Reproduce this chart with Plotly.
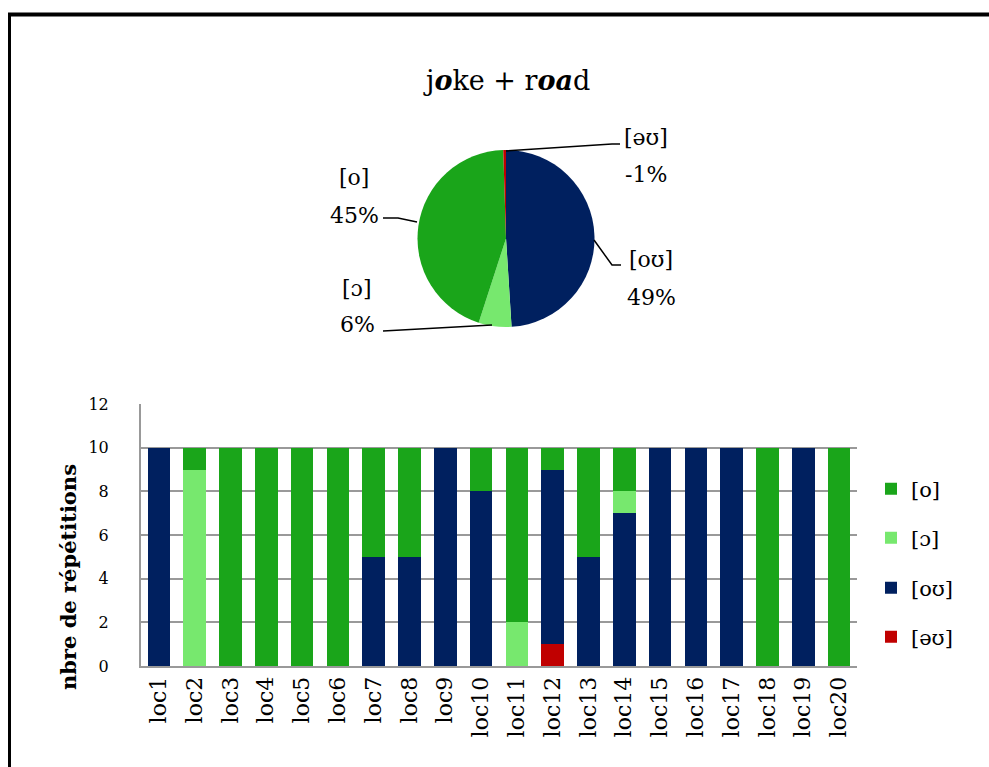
import plotly.graph_objects as go

W, H = 989, 767

locations = [f"loc{i}" for i in range(1, 21)]
# counts per location, stacked from bottom: [əʊ], [oʊ], [ɔ], [o]
schwa_u = [0, 0, 0, 0, 0, 0, 0, 0, 0, 0, 0, 1, 0, 0, 0, 0, 0, 0, 0, 0]
o_u = [10, 0, 0, 0, 0, 0, 5, 5, 10, 8, 0, 8, 5, 7, 10, 10, 10, 0, 10, 0]
open_o = [0, 9, 0, 0, 0, 0, 0, 0, 0, 0, 2, 0, 0, 1, 0, 0, 0, 0, 0, 0]
close_o = [0, 1, 10, 10, 10, 10, 5, 5, 0, 2, 8, 1, 5, 2, 0, 0, 0, 10, 0, 10]

pie_labels = ["[oʊ]", "[ɔ]", "[o]", "[əʊ]"]
pie_values = [98, 12, 89, 1]
pie_pct = ["49%", "6%", "45%", "-1%"]

C_O = "#1aa51a"
C_OPEN = "#77e86e"
C_OU = "#00205f"
C_SCHWA = "#c00000"

FONT = "DejaVu Serif"


def px(x, y):
    return x / W, 1 - y / H


fig = go.Figure()

# bottom-to-top stacking order, each with its own legend box (top-to-bottom rows)
series = [("[əʊ]", schwa_u, C_SCHWA, "legend4", 637),
          ("[oʊ]", o_u, C_OU, "legend3", 588),
          ("[ɔ]", open_o, C_OPEN, "legend2", 538),
          ("[o]", close_o, C_O, "legend", 489)]
legend_boxes = {}
for name, vals, col, leg, ly in series:
    fig.add_trace(go.Bar(x=locations, y=vals, name=name, marker_color=col,
                         marker_line_width=0, legend=leg))
    legend_boxes[leg] = dict(x=px(871, 0)[0], y=px(0, ly)[1], xanchor="left",
                             yanchor="middle", font=dict(size=21, family=FONT),
                             itemwidth=30, bgcolor="rgba(0,0,0,0)")

fig.add_trace(go.Pie(
    labels=pie_labels, values=pie_values, sort=False, direction="clockwise",
    marker=dict(colors=[C_OU, C_OPEN, C_O, C_SCHWA]),
    textinfo="none", showlegend=False,
    domain=dict(x=[417 / W, 595 / W], y=[1 - 327 / H, 1 - 150 / H]),
))

x0, _ = px(141, 0)
x1, _ = px(857, 0)
_, y0 = px(0, 666)
_, y1 = px(0, 404)

fig.update_layout(
    width=W, height=H,
    margin=dict(l=0, r=0, t=0, b=0, autoexpand=False),
    paper_bgcolor="white", plot_bgcolor="white",
    font=dict(family=FONT, color="black"),
    barmode="stack", bargap=0.37,
    showlegend=True,
    xaxis=dict(domain=[x0, x1], tickangle=-90, tickfont=dict(size=22),
               showline=True, linecolor="#999", linewidth=2, ticks="",
               automargin=False),
    yaxis=dict(domain=[y0, y1], range=[0, 12], dtick=2, showgrid=True,
               gridcolor="#999", gridwidth=1.5, showline=True, linecolor="#999",
               linewidth=2, tickfont=dict(size=16), ticks="", ticklabelstandoff=27,
               zeroline=False, automargin=False),
    **legend_boxes,
)

# y axis title
yx, yy = px(68, 577)
fig.add_annotation(x=yx, y=yy, xref="paper", yref="paper", showarrow=False,
                   textangle=-90, xanchor="center", yanchor="middle",
                   text="<b>nbre de répétitions</b>", font=dict(size=21, family=FONT))

# title of the pie
tx, ty = px(506, 80)
fig.add_annotation(x=tx, y=ty, xref="paper", yref="paper", showarrow=False,
                   yanchor="middle",
                   text="j<b><i>o</i></b>ke + r<b><i>oa</i></b>d",
                   font=dict(size=27, family=FONT))

# pie labels: category line and percent line
label_pos = [(651, 259, 297), (357, 288, 324), (354, 177, 216), (646, 137, 174)]
for (lx, ly1, ly2), lab, pct in zip(label_pos, pie_labels, pie_pct):
    for yy, txt in ((ly1, lab), (ly2, pct)):
        ax_, ay_ = px(lx, yy)
        fig.add_annotation(x=ax_, y=ay_, xref="paper", yref="paper", showarrow=False,
                           yanchor="middle", text=txt,
                           font=dict(size=22, family=FONT))

# leader lines
leaders = [
    [(594, 240), (612, 265), (621, 265)],
    [(492, 325), (383, 331)],
    [(417, 222), (398, 218), (383, 218)],
    [(506, 151), (612, 144), (620, 144)],
]
for pts in leaders:
    path = "M " + " L ".join(f"{px(x, y)[0]},{px(x, y)[1]}" for x, y in pts)
    fig.add_shape(type="path", path=path, xref="paper", yref="paper",
                  line=dict(color="black", width=1.5))

# outer frame
fig.add_shape(type="line", xref="paper", yref="paper",
              x0=px(8, 0)[0], x1=1, y0=px(0, 14.5)[1], y1=px(0, 14.5)[1],
              line=dict(color="black", width=4))
fig.add_shape(type="line", xref="paper", yref="paper",
              x0=px(9.5, 0)[0], x1=px(9.5, 0)[0], y0=0, y1=px(0, 13)[1],
              line=dict(color="black", width=3))

fig.write_html(
    "out.html",
    config={"displayModeBar": False},
    post_script=("document.documentElement.style.margin='0';"
                 "document.body.style.margin='0';"),
)
